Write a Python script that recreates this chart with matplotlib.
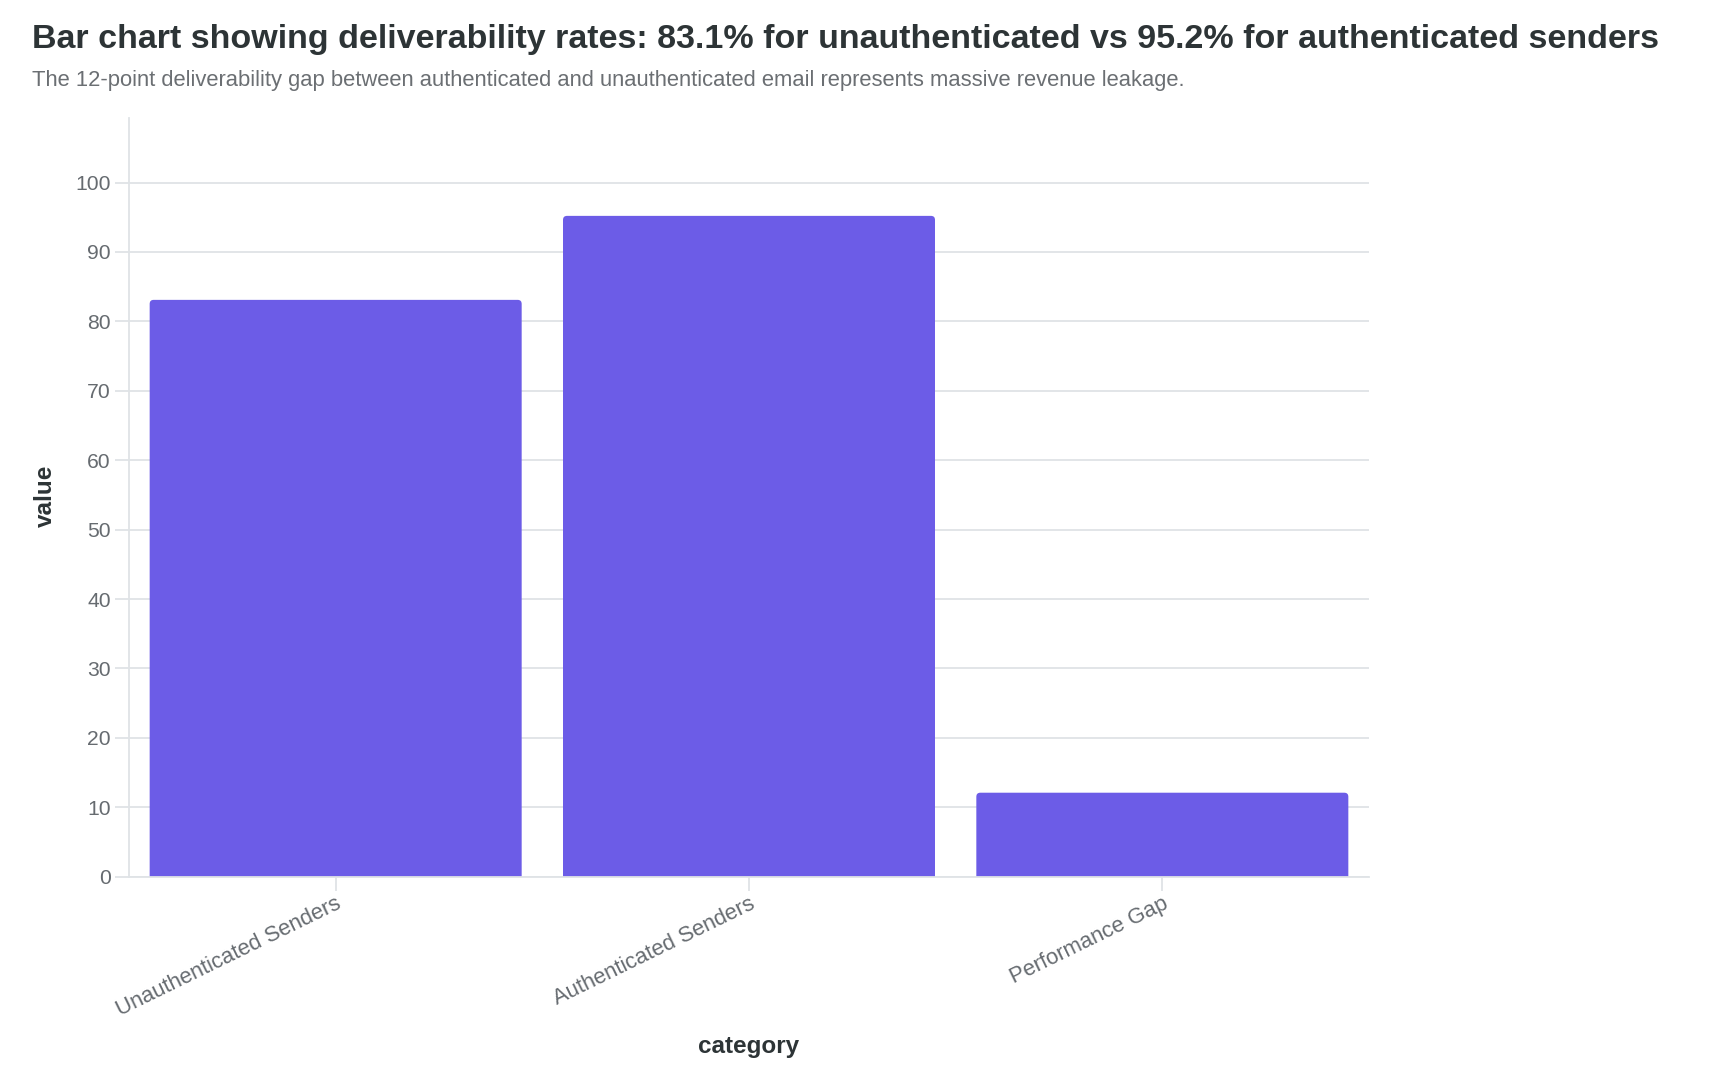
import matplotlib
matplotlib.use("Agg")
import matplotlib.pyplot as plt
from matplotlib.patches import FancyBboxPatch

categories = ["Unauthenticated Senders", "Authenticated Senders", "Performance Gap"]
values = [83.1, 95.2, 12.1]
yticks = [0, 10, 20, 30, 40, 50, 60, 70, 80, 90, 100]

title = "Bar chart showing deliverability rates: 83.1% for unauthenticated vs 95.2% for authenticated senders"
subtitle = "The 12-point deliverability gap between authenticated and unauthenticated email represents massive revenue leakage."

plt.rcParams['font.family'] = ['Liberation Sans', 'DejaVu Sans']

W, H = 1710, 1088
fig = plt.figure(figsize=(W/100, H/100), dpi=100)
ax = fig.add_axes([129/W, 1-876.7/H, (1369-129)/W, (876.7-118)/H])

bar_color = "#6C5CE7"
grid_color = "#dfe3e6"
tick_color = "#666b70"
text_dark = "#2d3436"

bars = ax.bar(range(len(categories)), values, width=0.9, color=bar_color)
ax.set_xlim(-0.5, 2.5)
ax.set_ylim(0, 109.3)

# rounded top corners
px_per_x = (1369-129) / 3.0
px_per_y = (876.7-118) / 109.3
r_px = 4.0
rx = r_px / px_per_x
ry = r_px / px_per_y
for b in bars:
    x, w, h = b.get_x(), b.get_width(), b.get_height()
    b.set_visible(False)
    p = FancyBboxPatch((x, -2), w, h + 2,
                       boxstyle=f"round,pad=0,rounding_size={rx}",
                       mutation_aspect=ry/rx, facecolor=bar_color,
                       edgecolor="none", zorder=2, clip_on=True)
    ax.add_patch(p)

ax.set_yticks(yticks)
ax.set_yticklabels([str(t) for t in yticks])
ax.yaxis.grid(True, color=grid_color, linewidth=1.3, zorder=0)
ax.set_axisbelow(True)
ax.set_xticks(range(len(categories)))
ax.set_xticklabels(categories, rotation=26, ha='right', va='top',
                   rotation_mode='anchor')

for s in ['top', 'right']:
    ax.spines[s].set_visible(False)
for s in ['left', 'bottom']:
    ax.spines[s].set_color(grid_color)
    ax.spines[s].set_linewidth(1.3)

ax.tick_params(axis='y', length=10, width=1.3, color=grid_color,
               labelsize=15.2, labelcolor=tick_color, pad=3)
ax.tick_params(axis='x', length=10, width=1.3, color=grid_color,
               labelsize=15.8, labelcolor=tick_color, pad=2)

fig.text(45/W, 1-496/H, "value", rotation=90, ha='center', va='center',
         fontsize=17.5, fontweight='bold', color=text_dark)
fig.text(749/W, 1-1047/H, "category", ha='center', va='center',
         fontsize=17.5, fontweight='bold', color=text_dark)

fig.text(32/W, 1-48/H, title, ha='left', va='baseline', fontsize=24.5,
         fontweight='bold', color=text_dark)
fig.text(32/W, 1-86/H, subtitle, ha='left', va='baseline', fontsize=15.8,
         color="#6b6f73")

fig.savefig("out.png", dpi=100, facecolor="white")
